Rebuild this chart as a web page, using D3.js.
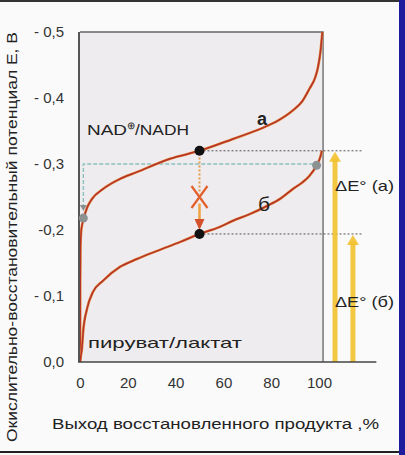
<!DOCTYPE html>
<html>
<head>
<meta charset="utf-8">
<script src="https://cdn.jsdelivr.net/npm/d3@7"></script>
<style>
  html, body { margin: 0; padding: 0; background: #fafafa; }
  svg { display: block; font-family: "Liberation Sans", Arial, sans-serif; }
</style>
</head>
<body>
<svg id="chart" width="405" height="455"></svg>
<script>
// Axis ticks
const xTicks = [0, 20, 40, 60, 80, 100];
const yTicks = [0, 0.1, 0.2, 0.3, 0.4, 0.5];
const yTickLabels = ["0,0", "- 0,1", "-0,2", "- 0,3", "- 0,4", "- 0,5"];

// Curve а: NAD+/NADH (yield %, |E| in V)
const curveAYield = [0.05, 0.1, 0.2, 0.5, 0.8, 1.5, 3, 5, 9.6, 16, 24, 37.7, 50, 64, 76, 83, 89, 93, 96, 98.5, 99.6, 100.6, 101.4];
const curveAE     = [0.0, 0.12, 0.175, 0.198, 0.206, 0.217, 0.234, 0.247, 0.262, 0.276, 0.288, 0.308, 0.32, 0.338, 0.354, 0.366, 0.381, 0.395, 0.414, 0.432, 0.447, 0.47, 0.5];

// Curve б: pyruvate/lactate
const curveBYield = [0.05, 0.4, 0.8, 1.3, 2.9, 5.4, 9.6, 16.7, 23.8, 32, 42, 50, 58, 64, 71, 78, 84, 89, 93, 96, 99, 100.5, 101.2];
const curveBE     = [0.0, 0.01, 0.02, 0.045, 0.08, 0.106, 0.123, 0.144, 0.156, 0.168, 0.182, 0.194, 0.204, 0.214, 0.224, 0.236, 0.248, 0.262, 0.272, 0.282, 0.298, 0.31, 0.32];

// Midpoint potentials and the working potential level
const midYield = 50;
const e0A = 0.32;
const e0B = 0.194;
const greyPtsYield = [1.4, 99];
const greyPtsE = [0.218, 0.298];
const workLevel = 0.30;

const svg = d3.select("#chart");
const W = 405, H = 455;

const x = d3.scaleLinear().domain([0, 100]).range([80, 319]);
const y = d3.scaleLinear().domain([0, 0.5]).range([362, 32]);

// frame edges
svg.append("rect").attr("x", 0).attr("y", 0).attr("width", W).attr("height", 2).attr("fill", "#333");
svg.append("rect").attr("x", 0).attr("y", 451).attr("width", W).attr("height", 2).attr("fill", "#222");
svg.append("rect").attr("x", 399).attr("y", 0).attr("width", 6).attr("height", H).attr("fill", "#1c1c9c");

// plot background
const xRight = 101.7;
svg.append("rect")
  .attr("x", x(0)).attr("y", y(0.5))
  .attr("width", x(xRight) - x(0)).attr("height", y(0) - y(0.5))
  .attr("fill", "#efecef");

// top and right border
svg.append("path")
  .attr("d", `M${x(0)},${y(0.5)}H${x(xRight)}V${y(0)}`)
  .attr("fill", "none").attr("stroke", "#666").attr("stroke-width", 1.3);

// dotted reference lines from midpoints
const refEnd = 118.5;
[e0A, e0B].forEach(e => {
  svg.append("line")
    .attr("x1", x(midYield)).attr("x2", x(refEnd))
    .attr("y1", y(e)).attr("y2", y(e))
    .attr("stroke", "#555").attr("stroke-width", 1).attr("stroke-dasharray", "2,2");
});

// working level (teal dashed)
svg.append("path")
  .attr("d", `M${x(greyPtsYield[0])},${y(greyPtsE[0]) - 10}V${y(workLevel)}H${x(greyPtsYield[1])}`)
  .attr("fill", "none").attr("stroke", "#8cc0c0").attr("stroke-width", 1.4).attr("stroke-dasharray", "4,2");
svg.append("path")
  .attr("d", `M${x(greyPtsYield[0]) - 3.5},${y(greyPtsE[0]) - 13}h7l-3.5,6z`)
  .attr("fill", "#8a9090");

// yellow ΔE° arrows
const arrowsX = [106.7, 114.2];
const arrowsTop = [e0A, e0B];
arrowsX.forEach((ax, i) => {
  const cx = x(ax);
  svg.append("rect")
    .attr("x", cx - 2.5).attr("y", y(arrowsTop[i]) + 8)
    .attr("width", 5).attr("height", y(0) - y(arrowsTop[i]) - 8)
    .attr("fill", "#f2c12e").attr("opacity", 0.9);
  svg.append("path")
    .attr("d", `M${cx},${y(arrowsTop[i]) + 1}l6,10h-12z`)
    .attr("fill", "#f2c12e").attr("opacity", 0.9);
});

// curves
const line = d3.line().x(d => x(d[0])).y(d => y(d[1])).curve(d3.curveMonotoneX);
const dataA = curveAYield.map((v, i) => [v, curveAE[i]]);
const dataB = curveBYield.map((v, i) => [v, curveBE[i]]);
[dataA, dataB].forEach(d => {
  svg.append("path").datum(d).attr("d", line)
    .attr("fill", "none").attr("stroke", "#e58a3a").attr("stroke-width", 2.6);
  svg.append("path").datum(d).attr("d", line)
    .attr("fill", "none").attr("stroke", "#b3322a").attr("stroke-width", 1.5);
});

// left axis line and extended baseline
svg.append("line")
  .attr("x1", x(0) - 1).attr("x2", x(0) - 1).attr("y1", y(0.5)).attr("y2", y(0))
  .attr("stroke", "#555").attr("stroke-width", 2);
svg.append("line")
  .attr("x1", x(0) - 2).attr("x2", x(124)).attr("y1", y(0)).attr("y2", y(0))
  .attr("stroke", "#444").attr("stroke-width", 1.5);

// orange arrow between midpoints (blocked)
const cxMid = x(midYield);
svg.append("line")
  .attr("x1", cxMid).attr("x2", cxMid).attr("y1", y(0.31)).attr("y2", y(0.255))
  .attr("stroke", "#e59a4a").attr("stroke-width", 2).attr("stroke-dasharray", "2,2");
svg.append("line")
  .attr("x1", cxMid).attr("x2", cxMid).attr("y1", y(0.24)).attr("y2", y(0.215))
  .attr("stroke", "#f0a040").attr("stroke-width", 2.5);
svg.append("path")
  .attr("d", `M${cxMid},${y(0.2)}l-5,-11h10z`)
  .attr("fill", "#d2502a");
const xm = y(0.25);
svg.append("path")
  .attr("d", `M${cxMid - 8},${xm - 11}L${cxMid + 8},${xm + 11}M${cxMid + 8},${xm - 11}L${cxMid - 8},${xm + 11}`)
  .attr("stroke", "#e2602e").attr("stroke-width", 2.2).attr("fill", "none");

// points
[e0A, e0B].forEach(e => {
  svg.append("circle").attr("cx", x(midYield)).attr("cy", y(e)).attr("r", 5).attr("fill", "#111");
});
greyPtsYield.forEach((v, i) => {
  svg.append("circle").attr("cx", x(v)).attr("cy", y(greyPtsE[i])).attr("r", 4.5).attr("fill", "#8c9292");
});

// axes ticks labels
const xAxis = d3.axisBottom(x).tickValues(xTicks).tickSize(0).tickPadding(15).tickFormat(d3.format("d"));
const gx = svg.append("g").attr("transform", `translate(0,${y(0)})`).call(xAxis);
gx.select(".domain").remove();
gx.selectAll("text").attr("font-size", 15).attr("fill", "#333").attr("font-family", "Liberation Sans, Arial, sans-serif");

const yAxis = d3.axisLeft(y).tickValues(yTicks).tickSize(0).tickPadding(16).tickFormat((d, i) => yTickLabels[i]);
const gy = svg.append("g").attr("transform", `translate(${x(0)},0)`).call(yAxis);
gy.select(".domain").remove();
gy.selectAll("text").attr("font-size", 15).attr("fill", "#333").attr("font-family", "Liberation Sans, Arial, sans-serif");

// annotations
const txt = (tx, ty, s, size, weight, anchor, len) => {
  const t = svg.append("text").attr("x", tx).attr("y", ty).attr("font-size", size)
    .attr("font-weight", weight || "normal").attr("fill", "#222")
    .attr("text-anchor", anchor || "start").text(s);
  if (len) t.attr("textLength", len).attr("lengthAdjust", "spacingAndGlyphs");
  return t;
};

const nad = svg.append("text").attr("x", 87).attr("y", 135).attr("font-size", 14.5).attr("fill", "#222");
nad.append("tspan").attr("textLength", 40).attr("lengthAdjust", "spacingAndGlyphs").text("NAD");
nad.append("tspan").attr("dy", -6).attr("font-size", 10).text("⊕");
nad.append("tspan").attr("dy", 6).attr("textLength", 54).attr("lengthAdjust", "spacingAndGlyphs").text("/NADH");

txt(262, 125, "а", 18, "bold", "middle");
txt(264, 211, "б", 21, "normal", "middle");
txt(88, 348, "пируват/лактат", 15, "normal", "start", 154);
txt(335, 191, "ΔE° (а)", 15, "normal", "start", 59);
txt(335, 307, "ΔE° (б)", 15, "normal", "start", 59);

txt(52, 429, "Выход восстановленного продукта ,%", 14, "normal", "start", 327);
svg.append("text")
  .attr("transform", "translate(17,237) rotate(-90)")
  .attr("text-anchor", "middle").attr("font-size", 14).attr("fill", "#222")
  .attr("textLength", 410).attr("lengthAdjust", "spacingAndGlyphs")
  .text("Окислительно-восстановительный потенциал Е, В");
</script>
</body>
</html>
